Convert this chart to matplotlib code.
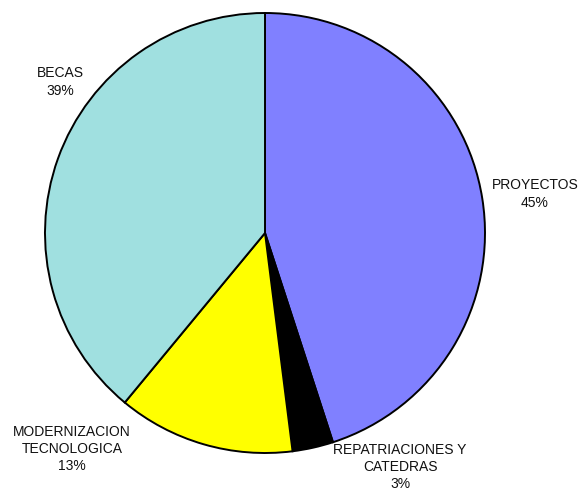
import matplotlib.pyplot as plt

categories = ["PROYECTOS", "REPATRIACIONES Y\nCATEDRAS", "MODERNIZACION\nTECNOLOGICA", "BECAS"]
values = [45, 3, 13, 39]
colors = ["#8080FF", "#000000", "#FFFF00", "#A0E0E0"]

plt.rcParams['font.family'] = ['Liberation Sans', 'DejaVu Sans']

fig = plt.figure(figsize=(5.81, 4.91), dpi=100)
ax = fig.add_axes([0, 0, 1, 1])

ax.pie(values, colors=colors, startangle=90, counterclock=False,
       center=(265, 258), radius=220, frame=True,
       wedgeprops=dict(edgecolor="black", linewidth=1.4))
ax.set_xlim(0, 581)
ax.set_ylim(0, 491)
ax.set_aspect('equal')
ax.axis('off')

# label anchor points (pixels, y from bottom)
label_pos = [(535, 297), (400, 24), (72, 42), (60, 409)]
total = sum(values)
for cat, v, (x, y) in zip(categories, values, label_pos):
    ax.text(x, y, f"{cat}\n{v / total * 100:.0f}%", ha="center", va="center",
            fontsize=10, linespacing=1.3, color="#111111")

fig.savefig("out.png", dpi=100)
plt.close()
